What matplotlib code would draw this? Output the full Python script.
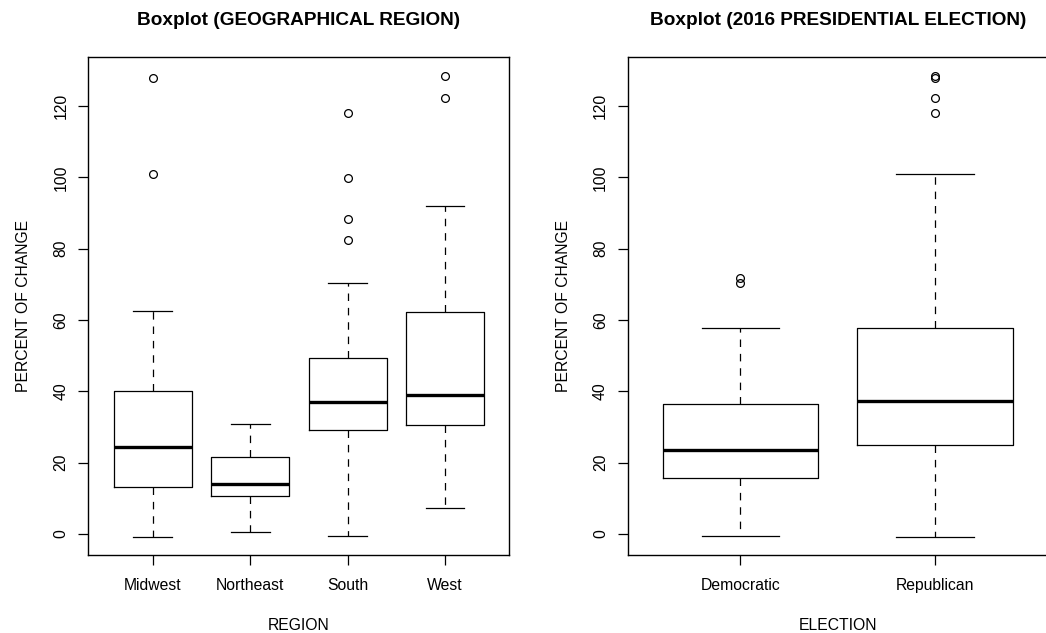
import matplotlib
matplotlib.use("Agg")
import matplotlib.pyplot as plt

plt.rcParams["font.family"] = ["Liberation Sans", "DejaVu Sans"]

# --- data (percent of change) ---
regions = ["Midwest", "Northeast", "South", "West"]
reg_q1 = [13.1, 10.7, 29.2, 30.7]
reg_med = [24.5, 14.1, 37.1, 38.9]
reg_q3 = [40.0, 21.5, 49.3, 62.3]
reg_lo = [-0.8, 0.5, -0.5, 7.2]
reg_hi = [62.5, 30.8, 70.4, 92.0]
reg_out = [[101.0, 127.8], [], [82.5, 88.3, 99.8, 118.2], [122.2, 128.5]]

parties = ["Democratic", "Republican"]
par_q1 = [15.8, 25.1]
par_med = [23.5, 37.3]
par_q3 = [36.6, 57.7]
par_lo = [-0.5, -0.8]
par_hi = [57.9, 101.0]
par_out = [[70.5, 71.7], [118.2, 122.2, 127.9, 128.5]]

yticks = [0, 20, 40, 60, 80, 100, 120]


def make_stats(labels, q1, med, q3, lo, hi, out):
    stats = []
    for i in range(len(labels)):
        stats.append({"label": labels[i], "q1": q1[i], "med": med[i], "q3": q3[i],
                      "whislo": lo[i], "whishi": hi[i], "fliers": out[i]})
    return stats


def r_boxplot(ax, stats, title, xlabel):
    n = len(stats)
    lw = 0.9
    ax.bxp(stats, widths=0.8, showfliers=True,
           boxprops=dict(color="black", linewidth=lw),
           medianprops=dict(color="black", linewidth=2.4, solid_capstyle="butt"),
           whiskerprops=dict(color="black", linewidth=lw, linestyle=(0, (6, 5.5))),
           capprops=dict(color="black", linewidth=lw),
           capwidths=0.4,
           flierprops=dict(marker="o", markerfacecolor="none", markeredgecolor="black",
                           markersize=5.6, markeredgewidth=0.9, linestyle="none"))
    # R style limits: range plus 4 %
    vals = []
    for s in stats:
        vals += [s["whislo"], s["whishi"]] + list(s["fliers"])
    lo, hi = min(vals), max(vals)
    pad = 0.04 * (hi - lo)
    ax.set_ylim(lo - pad, hi + pad)
    ax.set_xlim(0.5 - 0.04 * n, n + 0.5 + 0.04 * n)
    ax.set_yticks(yticks)
    ax.set_yticklabels([str(v) for v in yticks], rotation=90, va="center")
    ax.tick_params(axis="both", direction="out", length=7.2, width=0.9,
                   labelsize=11.3, colors="black")
    ax.tick_params(axis="x", pad=9)
    ax.tick_params(axis="y", pad=7)
    for sp in ax.spines.values():
        sp.set_linewidth(1.0)
    ax.set_title(title, fontsize=13.7, fontweight="bold", pad=23)
    ax.set_xlabel(xlabel, fontsize=11.3, labelpad=18)
    ax.set_ylabel("PERCENT OF CHANGE", fontsize=11.3, labelpad=16)


fig = plt.figure(figsize=(10.46, 6.33), dpi=100)
ax1 = fig.add_axes([0.0845, 0.1227, 0.4024, 0.7867])
ax2 = fig.add_axes([0.6001, 0.1227, 0.4015, 0.7867])

r_boxplot(ax1, make_stats(regions, reg_q1, reg_med, reg_q3, reg_lo, reg_hi, reg_out),
          "Boxplot (GEOGRAPHICAL REGION)", "REGION")
r_boxplot(ax2, make_stats(parties, par_q1, par_med, par_q3, par_lo, par_hi, par_out),
          "Boxplot (2016 PRESIDENTIAL ELECTION)", "ELECTION")

fig.savefig("out.png", dpi=100)
